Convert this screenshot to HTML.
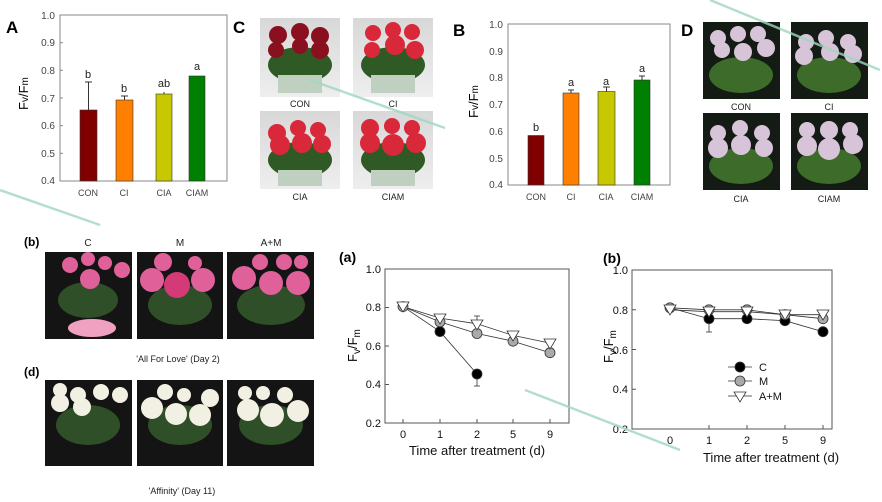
<!DOCTYPE html>
<html><head><meta charset="utf-8"><style>
body{margin:0;background:#fff;}
svg{display:block;font-family:"Liberation Sans",Arial,sans-serif;}
</style></head><body>
<svg width="882" height="502" viewBox="0 0 882 502" xmlns="http://www.w3.org/2000/svg">
<defs>
<linearGradient id="lightbg" x1="0" y1="0" x2="0" y2="1"><stop offset="0" stop-color="#d8d8d8"/><stop offset="1" stop-color="#eeeeee"/></linearGradient>
</defs>

<!-- ===== Chart A ===== -->
<text x="6" y="33" font-size="17" font-weight="bold">A</text>
<rect x="60" y="15" width="167" height="166" fill="none" stroke="#888" stroke-width="1"/>
<g font-size="10" fill="#444" text-anchor="end">
<text x="55" y="19">1.0</text><text x="55" y="46">0.9</text><text x="55" y="74">0.8</text>
<text x="55" y="102">0.7</text><text x="55" y="129">0.6</text><text x="55" y="157">0.5</text><text x="55" y="184">0.4</text>
</g>
<g stroke="#888"><line x1="60" y1="42.7" x2="63" y2="42.7"/><line x1="60" y1="70.3" x2="63" y2="70.3"/><line x1="60" y1="98" x2="63" y2="98"/><line x1="60" y1="125.7" x2="63" y2="125.7"/><line x1="60" y1="153.3" x2="63" y2="153.3"/></g>
<text transform="translate(28,110) rotate(-90)" font-size="13">F<tspan font-size="10">v</tspan>/F<tspan font-size="10">m</tspan></text>
<rect x="80" y="110" width="17" height="71" fill="#800000" stroke="#333" stroke-width="0.6"/>
<line x1="88.5" y1="110" x2="88.5" y2="82" stroke="#333"/><line x1="85" y1="82" x2="92" y2="82" stroke="#333"/>
<rect x="116" y="100" width="17" height="81" fill="#ff8000" stroke="#333" stroke-width="0.6"/>
<line x1="124.5" y1="100" x2="124.5" y2="96" stroke="#333"/><line x1="121" y1="96" x2="128" y2="96" stroke="#333"/>
<rect x="156" y="94" width="16" height="87" fill="#c8c800" stroke="#333" stroke-width="0.6"/>
<line x1="164" y1="94" x2="164" y2="92" stroke="#333"/>
<rect x="189" y="76" width="16" height="105" fill="#008000" stroke="#333" stroke-width="0.6"/>
<g font-size="11" text-anchor="middle" fill="#222">
<text x="88" y="78">b</text><text x="124" y="92">b</text><text x="164" y="87">ab</text><text x="197" y="70">a</text>
</g>
<g font-size="9" text-anchor="middle" fill="#444">
<text x="88" y="196">CON</text><text x="124" y="196">CI</text><text x="164" y="196">CIA</text><text x="197" y="196">CIAM</text>
</g>

<!-- ===== C photos ===== -->
<text x="233" y="33" font-size="17" font-weight="bold">C</text>
<g>
<rect x="260" y="18" width="80" height="79" fill="url(#lightbg)"/>
<rect x="353" y="18" width="80" height="79" fill="url(#lightbg)"/>
<rect x="260" y="111" width="80" height="78" fill="url(#lightbg)"/>
<rect x="353" y="111" width="80" height="78" fill="url(#lightbg)"/>
<g fill="#2f5a25"><ellipse cx="300" cy="65" rx="32" ry="18"/><ellipse cx="393" cy="65" rx="32" ry="18"/><ellipse cx="300" cy="160" rx="32" ry="18"/><ellipse cx="393" cy="160" rx="32" ry="18"/></g>
<g fill="#c0d0c0"><rect x="278" y="75" width="44" height="18"/><rect x="371" y="75" width="44" height="18"/><rect x="278" y="170" width="44" height="16"/><rect x="371" y="170" width="44" height="16"/></g>
<g fill="#8a1020"><circle cx="278" cy="35" r="9"/><circle cx="300" cy="32" r="9"/><circle cx="320" cy="36" r="9"/><circle cx="276" cy="50" r="8"/><circle cx="300" cy="46" r="8"/><circle cx="320" cy="50" r="9"/></g>
<g fill="#d8283a"><circle cx="373" cy="33" r="8"/><circle cx="393" cy="30" r="8"/><circle cx="412" cy="32" r="8"/><circle cx="372" cy="50" r="8"/><circle cx="395" cy="45" r="10"/><circle cx="415" cy="50" r="9"/>
<circle cx="277" cy="133" r="9"/><circle cx="298" cy="128" r="8"/><circle cx="318" cy="130" r="8"/><circle cx="280" cy="145" r="10"/><circle cx="302" cy="143" r="10"/><circle cx="322" cy="144" r="9"/>
<circle cx="370" cy="128" r="9"/><circle cx="392" cy="126" r="8"/><circle cx="412" cy="128" r="8"/><circle cx="370" cy="143" r="10"/><circle cx="393" cy="145" r="11"/><circle cx="416" cy="143" r="10"/></g>
</g>
<g font-size="9" text-anchor="middle" fill="#222">
<text x="300" y="107">CON</text><text x="393" y="107">CI</text><text x="300" y="200">CIA</text><text x="393" y="200">CIAM</text>
</g>

<!-- ===== Chart B ===== -->
<text x="453" y="36" font-size="17" font-weight="bold">B</text>
<rect x="508" y="24" width="162" height="161" fill="none" stroke="#888"/>
<g font-size="10" fill="#444" text-anchor="end">
<text x="503" y="28">1.0</text><text x="503" y="55">0.9</text><text x="503" y="81">0.8</text>
<text x="503" y="108">0.7</text><text x="503" y="135">0.6</text><text x="503" y="162">0.5</text><text x="503" y="188">0.4</text>
</g>
<text transform="translate(478,118) rotate(-90)" font-size="13">F<tspan font-size="10">v</tspan>/F<tspan font-size="10">m</tspan></text>
<rect x="528" y="135.5" width="16" height="49.5" fill="#800000" stroke="#333" stroke-width="0.6"/>
<rect x="563" y="93" width="16" height="92" fill="#ff8000" stroke="#333" stroke-width="0.6"/>
<line x1="571" y1="93" x2="571" y2="90" stroke="#333"/><line x1="568" y1="90" x2="574" y2="90" stroke="#333"/>
<rect x="598" y="91.5" width="17" height="93.5" fill="#c8c800" stroke="#333" stroke-width="0.6"/>
<line x1="606.5" y1="91.5" x2="606.5" y2="87" stroke="#333"/><line x1="603" y1="87" x2="610" y2="87" stroke="#333"/>
<rect x="634" y="80" width="16" height="105" fill="#008000" stroke="#333" stroke-width="0.6"/>
<line x1="642" y1="80" x2="642" y2="76" stroke="#333"/><line x1="639" y1="76" x2="645" y2="76" stroke="#333"/>
<g font-size="11" text-anchor="middle" fill="#222">
<text x="536" y="131">b</text><text x="571" y="86">a</text><text x="606" y="85">a</text><text x="642" y="72">a</text>
</g>
<g font-size="9" text-anchor="middle" fill="#444">
<text x="536" y="200">CON</text><text x="571" y="200">CI</text><text x="606" y="200">CIA</text><text x="642" y="200">CIAM</text>
</g>

<!-- ===== D photos ===== -->
<text x="681" y="36" font-size="17" font-weight="bold">D</text>
<g fill="#141a14">
<rect x="703" y="22" width="77" height="77"/><rect x="791" y="22" width="77" height="77"/>
<rect x="703" y="113" width="77" height="77"/><rect x="791" y="113" width="77" height="77"/>
</g>
<g fill="#3d6b2a"><ellipse cx="741" cy="75" rx="32" ry="18"/><ellipse cx="829" cy="75" rx="32" ry="18"/><ellipse cx="741" cy="166" rx="32" ry="18"/><ellipse cx="829" cy="166" rx="32" ry="18"/></g>
<g fill="#d8c4d8">
<circle cx="718" cy="38" r="8"/><circle cx="738" cy="34" r="8"/><circle cx="758" cy="34" r="8"/><circle cx="722" cy="50" r="8"/><circle cx="743" cy="52" r="9"/><circle cx="766" cy="48" r="9"/>
<circle cx="806" cy="42" r="8"/><circle cx="826" cy="38" r="8"/><circle cx="848" cy="42" r="8"/><circle cx="804" cy="56" r="9"/><circle cx="830" cy="52" r="9"/><circle cx="853" cy="54" r="9"/>
<circle cx="718" cy="133" r="8"/><circle cx="740" cy="128" r="8"/><circle cx="762" cy="133" r="8"/><circle cx="718" cy="148" r="10"/><circle cx="741" cy="145" r="10"/><circle cx="764" cy="148" r="9"/>
<circle cx="807" cy="130" r="8"/><circle cx="829" cy="130" r="9"/><circle cx="850" cy="130" r="8"/><circle cx="807" cy="146" r="10"/><circle cx="829" cy="149" r="11"/><circle cx="853" cy="144" r="10"/>
</g>
<g font-size="9" text-anchor="middle" fill="#222">
<text x="741" y="110">CON</text><text x="829" y="110">CI</text><text x="741" y="202">CIA</text><text x="829" y="202">CIAM</text>
</g>

<!-- ===== Bottom-left photos ===== -->
<text x="24" y="246" font-size="12" font-weight="bold">(b)</text>
<g font-size="10" text-anchor="middle" fill="#222"><text x="88" y="246">C</text><text x="180" y="246">M</text><text x="271" y="246">A+M</text></g>
<g fill="#141414">
<rect x="45" y="252" width="87" height="87"/><rect x="137" y="252" width="86" height="87"/><rect x="227" y="252" width="87" height="87"/>
<rect x="45" y="380" width="87" height="86"/><rect x="137" y="380" width="86" height="86"/><rect x="227" y="380" width="87" height="86"/>
</g>
<g fill="#2f4f28"><ellipse cx="88" cy="300" rx="30" ry="18"/><ellipse cx="180" cy="305" rx="32" ry="20"/><ellipse cx="271" cy="305" rx="34" ry="20"/>
<ellipse cx="88" cy="425" rx="32" ry="20"/><ellipse cx="180" cy="425" rx="32" ry="20"/><ellipse cx="271" cy="425" rx="32" ry="20"/></g>
<g fill="#e0609a">
<circle cx="70" cy="265" r="8"/><circle cx="88" cy="259" r="7"/><circle cx="105" cy="263" r="7"/><circle cx="122" cy="270" r="8"/><circle cx="90" cy="279" r="10"/>
<ellipse cx="92" cy="328" rx="24" ry="9" fill="#f0a0c0"/>
<circle cx="152" cy="280" r="12"/><circle cx="163" cy="262" r="9"/><circle cx="195" cy="263" r="7"/><circle cx="177" cy="285" r="13" fill="#d43a78"/><circle cx="203" cy="280" r="12"/>
<circle cx="244" cy="278" r="12"/><circle cx="260" cy="262" r="8"/><circle cx="284" cy="262" r="8"/><circle cx="301" cy="262" r="7"/><circle cx="271" cy="283" r="12"/><circle cx="298" cy="283" r="12"/>
</g>
<g fill="#f2f0e2">
<circle cx="60" cy="390" r="7"/><circle cx="78" cy="395" r="8"/><circle cx="101" cy="392" r="8"/><circle cx="120" cy="395" r="8"/><circle cx="60" cy="403" r="9"/><circle cx="82" cy="407" r="9"/>
<circle cx="152" cy="408" r="11"/><circle cx="165" cy="392" r="8"/><circle cx="184" cy="395" r="7"/><circle cx="210" cy="398" r="9"/><circle cx="176" cy="414" r="11"/><circle cx="200" cy="415" r="11"/>
<circle cx="245" cy="393" r="7"/><circle cx="263" cy="393" r="7"/><circle cx="285" cy="395" r="8"/><circle cx="248" cy="410" r="11"/><circle cx="272" cy="415" r="12"/><circle cx="298" cy="411" r="11"/>
</g>
<text x="178" y="362" font-size="9" text-anchor="middle" fill="#222">'All For Love' (Day 2)</text>
<text x="24" y="376" font-size="12" font-weight="bold">(d)</text>
<text x="182" y="494" font-size="9" text-anchor="middle" fill="#222">'Affinity' (Day 11)</text>

<!-- ===== Chart (a) ===== -->
<text x="339" y="262" font-size="14" font-weight="bold">(a)</text>
<rect x="385" y="269" width="184" height="154" fill="none" stroke="#555"/>
<g font-size="11" fill="#111" text-anchor="end">
<text x="381" y="273">1.0</text><text x="381" y="311">0.8</text><text x="381" y="350">0.6</text><text x="381" y="388">0.4</text><text x="381" y="427">0.2</text>
</g>
<g stroke="#555"><line x1="385" y1="307.5" x2="389" y2="307.5"/><line x1="385" y1="346" x2="389" y2="346"/><line x1="385" y1="384.5" x2="389" y2="384.5"/>
<line x1="403" y1="423" x2="403" y2="419"/><line x1="440" y1="423" x2="440" y2="419"/><line x1="477" y1="423" x2="477" y2="419"/><line x1="513" y1="423" x2="513" y2="419"/><line x1="550" y1="423" x2="550" y2="419"/></g>
<g font-size="11" fill="#111" text-anchor="middle">
<text x="403" y="438">0</text><text x="440" y="438">1</text><text x="477" y="438">2</text><text x="513" y="438">5</text><text x="550" y="438">9</text>
<text x="477" y="455" font-size="13">Time after treatment (d)</text>
</g>
<text transform="translate(357,362) rotate(-90)" font-size="13">F<tspan font-size="10" dy="3">v</tspan><tspan dy="-3">/F</tspan><tspan font-size="10" dy="3">m</tspan></text>
<g stroke="#333" fill="none" stroke-width="0.8">
<polyline points="403,306.6 440,331.6 477,374"/>
<polyline points="403,306.6 440,321.9 477,333.5 513,341.2 550,352.7"/>
<polyline points="403,306.6 440,318.1 477,323.8 513,335.4 550,343.1"/>
<line x1="477" y1="374" x2="477" y2="386"/><line x1="474" y1="386" x2="480" y2="386"/>
<line x1="477" y1="323.8" x2="477" y2="316"/><line x1="474" y1="316" x2="480" y2="316"/>
</g>
<g stroke="#333" stroke-width="0.8">
<circle cx="440" cy="331.6" r="5" fill="#000"/><circle cx="477" cy="374" r="5" fill="#000"/>
<circle cx="440" cy="321.9" r="5" fill="#aaa"/><circle cx="477" cy="333.5" r="5" fill="#aaa"/><circle cx="513" cy="341.2" r="5" fill="#aaa"/><circle cx="550" cy="352.7" r="5" fill="#aaa"/>
<circle cx="403" cy="306.6" r="5" fill="#aaa"/>
<polygon points="397,302 409,302 403,312" fill="#fff"/><polygon points="434,314 446,314 440,324" fill="#fff"/><polygon points="471,320 483,320 477,330" fill="#fff"/><polygon points="507,331 519,331 513,341" fill="#fff"/><polygon points="544,339 556,339 550,349" fill="#fff"/>
</g>

<!-- ===== Chart (b) ===== -->
<text x="603" y="263" font-size="14" font-weight="bold">(b)</text>
<rect x="632" y="270" width="200" height="159" fill="none" stroke="#555"/>
<g font-size="11" fill="#111" text-anchor="end">
<text x="628" y="274">1.0</text><text x="628" y="314">0.8</text><text x="628" y="354">0.6</text><text x="628" y="393">0.4</text><text x="628" y="433">0.2</text>
</g>
<g stroke="#555"><line x1="632" y1="309.75" x2="636" y2="309.75"/><line x1="632" y1="349.5" x2="636" y2="349.5"/><line x1="632" y1="389.25" x2="636" y2="389.25"/>
<line x1="709" y1="429" x2="709" y2="425"/><line x1="747" y1="429" x2="747" y2="425"/><line x1="785" y1="429" x2="785" y2="425"/><line x1="823" y1="429" x2="823" y2="425"/></g>
<g font-size="11" fill="#111" text-anchor="middle">
<text x="670" y="444">0</text><text x="709" y="444">1</text><text x="747" y="444">2</text><text x="785" y="444">5</text><text x="823" y="444">9</text>
<text x="771" y="462" font-size="13">Time after treatment (d)</text>
</g>
<text transform="translate(613,363) rotate(-90)" font-size="13">F<tspan font-size="10" dy="3">v</tspan><tspan dy="-3">/F</tspan><tspan font-size="10" dy="3">m</tspan></text>
<g stroke="#333" fill="none" stroke-width="0.8">
<polyline points="670,307.8 709,318.7 747,318.7 785,320.7 823,331.7"/>
<polyline points="670,307.8 709,309.8 747,309.8 785,314.7 823,318.7"/>
<polyline points="670,309.8 709,311.7 747,311.7 785,314.7 823,314.7"/>
<line x1="709" y1="318.7" x2="709" y2="332"/><line x1="706" y1="332" x2="712" y2="332"/>
</g>
<g stroke="#333" stroke-width="0.8">
<circle cx="709" cy="318.7" r="5" fill="#000"/><circle cx="747" cy="318.7" r="5" fill="#000"/><circle cx="785" cy="320.7" r="5" fill="#000"/><circle cx="823" cy="331.7" r="5" fill="#000"/>
<circle cx="670" cy="307.8" r="5" fill="#aaa"/><circle cx="709" cy="309.8" r="5" fill="#aaa"/><circle cx="747" cy="309.8" r="5" fill="#aaa"/><circle cx="785" cy="314.7" r="5" fill="#aaa"/><circle cx="823" cy="318.7" r="5" fill="#aaa"/>
<polygon points="664,305 676,305 670,315" fill="#fff"/><polygon points="703,307 715,307 709,317" fill="#fff"/><polygon points="741,307 753,307 747,317" fill="#fff"/><polygon points="779,310 791,310 785,320" fill="#fff"/><polygon points="817,310 829,310 823,320" fill="#fff"/>
</g>
<g stroke="#333" stroke-width="0.8">
<line x1="728" y1="367" x2="752" y2="367"/><circle cx="740" cy="367" r="5" fill="#000"/>
<line x1="728" y1="381" x2="752" y2="381"/><circle cx="740" cy="381" r="5" fill="#aaa"/>
<line x1="728" y1="396" x2="752" y2="396"/><polygon points="734,392 746,392 740,402" fill="#fff"/>
</g>
<g font-size="11" fill="#111"><text x="759" y="371">C</text><text x="759" y="385">M</text><text x="759" y="400">A+M</text></g>

<!-- watermark lines -->
<g stroke="#9ed8c0" stroke-width="2.5" opacity="0.8">
<line x1="310" y1="80" x2="445" y2="128"/><line x1="0" y1="190" x2="100" y2="225"/><line x1="525" y1="390" x2="680" y2="450"/><line x1="710" y1="0" x2="880" y2="70"/>
</g>
</svg>
</body></html>
